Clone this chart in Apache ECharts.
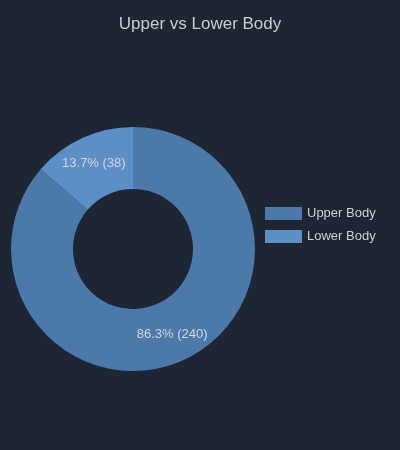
<!DOCTYPE html>
<html>
<head>
<meta charset="utf-8">
<script src="https://cdn.jsdelivr.net/npm/echarts@6/dist/echarts.min.js"></script>
<style>
html, body { margin: 0; padding: 0; background: #1e2533; }
#main { width: 400px; height: 450px; }
</style>
</head>
<body>
<div id="main"></div>
<script>
var categories = ['Upper Body', 'Lower Body'];
var values = [240, 38];
var colors = ['#4a79aa', '#5b8fc6'];

var pieData = [];
for (var i = 0; i < categories.length; i++) {
	pieData.push({ name: categories[i], value: values[i], itemStyle: { color: colors[i] } });
}

var myChart = echarts.init(document.getElementById('main'));
var option = {
	backgroundColor: '#1e2533',
	title: {
		text: 'Upper vs Lower Body',
		left: 'center',
		top: 11,
		textStyle: {
			color: '#c9ccd1',
			fontSize: 17,
			fontWeight: 'normal',
			fontFamily: 'Liberation Sans, Arial, sans-serif'
		}
	},
	legend: {
		orient: 'vertical',
		left: 260,
		top: 'middle',
		icon: 'rect',
		itemWidth: 37,
		itemHeight: 13,
		itemGap: 10,
		textStyle: {
			color: '#cdd0d4',
			fontSize: 13,
			fontFamily: 'Liberation Sans, Arial, sans-serif'
		},
		data: categories
	},
	series: [{
		name: 'Body',
		type: 'pie',
		center: [133, 249],
		radius: [60, 122],
		startAngle: 90,
		clockwise: true,
		avoidLabelOverlap: false,
		label: {
			show: true,
			position: 'inside',
			color: '#d4d7db',
			fontSize: 13,
			fontFamily: 'Liberation Sans, Arial, sans-serif',
			formatter: function (p) {
				return p.percent.toFixed(1) + '% (' + p.value + ')';
			}
		},
		labelLine: { show: false },
		emphasis: { scale: false },
		data: pieData
	}]
};
myChart.setOption(option);
</script>
</body>
</html>
